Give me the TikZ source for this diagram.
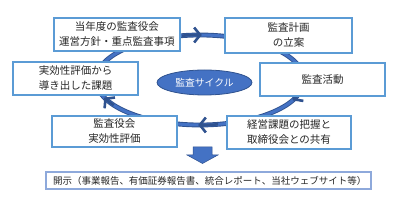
\documentclass[tikz,border=0pt]{standalone}
\usepackage{fontspec}
\setmainfont{Noto Sans CJK JP}
\usetikzlibrary{arrows.meta,shapes.geometric}
\definecolor{boxblue}{HTML}{5B9BD5}
\definecolor{cyc}{HTML}{4472C4}
\definecolor{cycdark}{HTML}{2F528F}
\definecolor{botline}{HTML}{8EA9DB}
\definecolor{txt}{HTML}{262626}
\tikzset{
  stepbox/.style={draw=boxblue, line width=1.1pt, fill=white, align=center,
    inner sep=0pt, font=\fontsize{10.5}{15}\selectfont, text=txt},
  cyctip/.style={draw=cycdark, line width=2.6pt, -{Straight Barb[length=6pt,width=15pt]}},
}
\begin{document}
\begin{tikzpicture}[x=1pt,y=-1pt]
\useasboundingbox (0,0) rectangle (405,203);
% cycle ring
\draw[cycdark, line width=4.8pt] (200,80) ellipse [x radius=104pt, y radius=45pt];
\draw[cyc, line width=3pt] (200,80) ellipse [x radius=104pt, y radius=45pt];
% arrow heads
\draw[cyctip] plot[domain=-100:-89, samples=6] ({200+104*cos(\x)},{80+45*sin(\x)});
\draw[cyctip] plot[domain=16:27, samples=6] ({200+104*cos(\x)},{80+45*sin(\x)});
\draw[cyctip] plot[domain=80:91, samples=6] ({200+104*cos(\x)},{80+45*sin(\x)});
\draw[cyctip] plot[domain=146:157, samples=6] ({200+104*cos(\x)},{80+45*sin(\x)});
% boxes
\node[stepbox, minimum width=126pt, minimum height=33pt] (b1) at (117,34.5) {当年度の監査役会\\運営方針・重点監査事項};
\node[stepbox, minimum width=127pt, minimum height=35pt] (b2) at (288.5,35.5) {監査計画\\の立案};
\node[stepbox, minimum width=125pt, minimum height=33pt] (b3) at (322.5,79.5) {監査活動};
\node[stepbox, minimum width=125pt, minimum height=33pt] (b4) at (75.5,78.5) {実効性評価から\\導き出した課題};
\node[stepbox, minimum width=125pt, minimum height=31pt] (b5) at (114.5,131.5) {監査役会\\実効性評価};
\node[stepbox, minimum width=124pt, minimum height=33pt] (b6) at (289,132.5) {経営課題の把握と\\取締役会との共有};
% center ellipse
\node[ellipse, fill=cyc, draw=cycdark, line width=0.8pt, minimum width=95pt, minimum height=25pt,
  inner sep=0pt, text=white, font=\fontsize{9.8}{11}\selectfont] (cy) at (204.5,82.5) {監査サイクル};
% down block arrow
\fill[cyc, draw=cycdark, line width=0.5pt] (193,147) -- (212,147) -- (212,155) -- (218,155)
  -- (202.5,163.5) -- (187,155) -- (193,155) -- cycle;
% bottom box
\node[draw=botline, line width=1.1pt, text width=311pt, inner xsep=7pt, inner ysep=0pt,
  minimum height=17pt, align=left, text=txt, font=\fontsize{9.5}{11}\selectfont] (dis) at (208.5,180.5)
  {開示（事業報告、有価証券報告書、統合レポート、当社ウェブサイト等）};
\end{tikzpicture}
\end{document}
